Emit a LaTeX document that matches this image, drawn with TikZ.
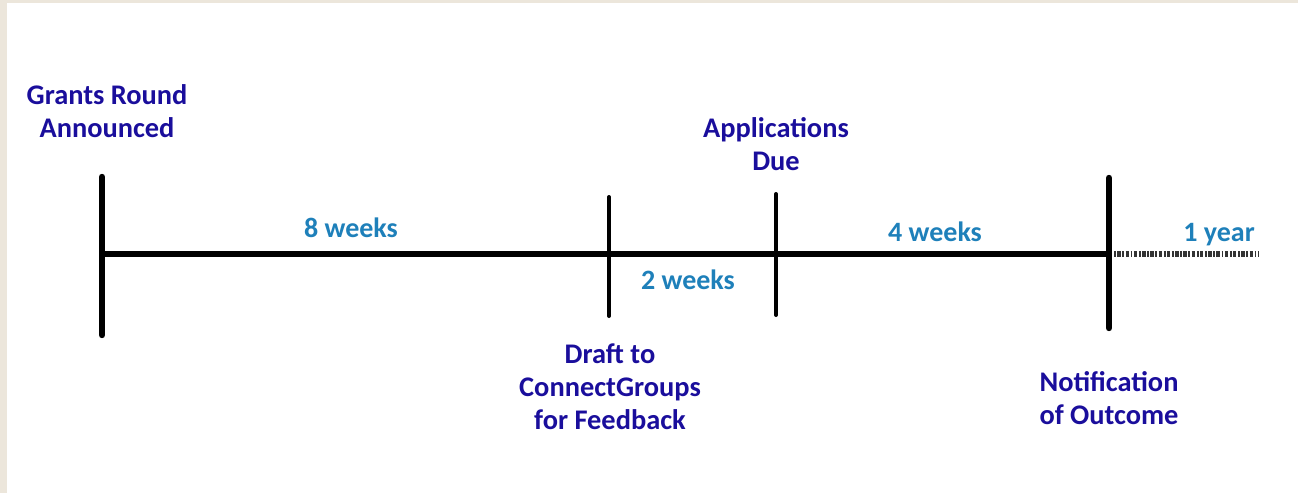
\documentclass[tikz,border=0pt]{standalone}
\usepackage{fontspec}
\setmainfont{Carlito}
\definecolor{milestone}{RGB}{26,14,156}
\definecolor{span}{RGB}{30,128,186}
\definecolor{paper}{RGB}{236,230,219}
\begin{document}
\begin{tikzpicture}[x=0.75pt,y=-0.75pt,
  milestonelabel/.style={text=milestone,font=\fontsize{21.3}{24.75}\selectfont\bfseries,align=center,inner sep=0pt},
  spanlabel/.style={text=span,font=\fontsize{21}{24}\selectfont\bfseries,inner sep=0pt},
  bigtick/.style={line width=4.8pt,line cap=round},
  smalltick/.style={line width=3pt,line cap=round},
  axis/.style={line width=4.5pt}]
% page and its textured margin
\fill[paper] (0,0) rectangle (1298,493);
\fill[white] (7,3) rectangle (1298,493);
\useasboundingbox (0,0) rectangle (1298,493);

% tick end points
\coordinate (a) at (102,254);
\coordinate (at) at (102,177);
\coordinate (ab) at (102,335);
\coordinate (b) at (609,254);
\coordinate (bt) at (609,197);
\coordinate (bb) at (609,316);
\coordinate (c) at (776,254);
\coordinate (ct) at (776,194);
\coordinate (cb) at (776,315);
\coordinate (d) at (1109,254);
\coordinate (dt) at (1109,178);
\coordinate (db) at (1109,328);
\coordinate (e) at (1258,254);

% timeline
\draw[axis] (a) -- (d);
\draw[line width=4.2pt,black!80,dash pattern=on 2.6pt off 1.2pt on 1.4pt off 1pt] (d) -- (e);
\draw[bigtick] (at) -- (ab);
\draw[smalltick] (bt) -- (bb);
\draw[smalltick] (ct) -- (cb);
\draw[bigtick] (dt) -- (db);

% milestones
\node[milestonelabel] (m1) at (107,111) {Grants Round\\Announced};
\node[milestonelabel] (m2) at (776,144) {Applications\\Due};
\node[milestonelabel] (m3) at (610,387) {Draft to\\ConnectGroups\\for Feedback};
\node[milestonelabel] (m4) at (1109,398) {Notification\\of Outcome};

% durations
\node[spanlabel] (s1) at (351,228) {8 weeks};
\node[spanlabel] (s2) at (688,280) {2 weeks};
\node[spanlabel] (s3) at (935,232) {4 weeks};
\node[spanlabel] (s4) at (1219,235) {1 year};
\end{tikzpicture}
\end{document}
